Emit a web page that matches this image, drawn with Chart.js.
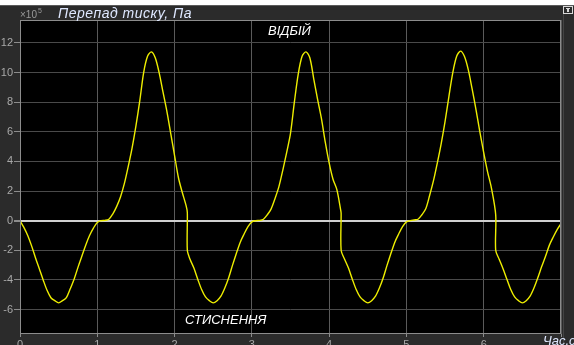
<!DOCTYPE html>
<html>
<head>
<meta charset="utf-8">
<script src="https://cdn.jsdelivr.net/npm/chart.js@4.4.1/dist/chart.umd.min.js"></script>
<style>
  html, body { margin: 0; padding: 0; background: #2b2b2b; }
  #wrap { position: relative; width: 574px; height: 345px; }
  canvas { display: block; }
</style>
</head>
<body>
<div id="wrap"><canvas id="c" width="574" height="345"></canvas></div>
<script>
// ---- data (time in s, pressure drop in ×10^5 Pa) ----
const timeS = [
  0, 0.05, 0.1, 0.15, 0.2, 0.25, 0.3, 0.35, 0.4, 0.45, 0.5, 0.55, 0.6, 0.65, 0.7, 0.75, 0.8, 0.85, 0.9, 0.95,
  1.0, 1.05, 1.1, 1.15, 1.2, 1.25, 1.3, 1.35, 1.4, 1.45, 1.5, 1.55, 1.6, 1.65, 1.7, 1.75, 1.8, 1.85, 1.9, 1.95,
  2.0, 2.05, 2.1, 2.15, 2.165, 2.165,
  2.2, 2.25, 2.3, 2.35, 2.4, 2.45, 2.5, 2.55, 2.6, 2.65, 2.7, 2.75, 2.8, 2.85, 2.9, 2.95,
  3.0, 3.05, 3.1, 3.15, 3.2, 3.25, 3.3, 3.35, 3.4, 3.45, 3.5, 3.55, 3.6, 3.65, 3.7, 3.75, 3.8, 3.85, 3.9, 3.95,
  4.0, 4.05, 4.1, 4.15, 4.155, 4.155,
  4.2, 4.25, 4.3, 4.35, 4.4, 4.45, 4.5, 4.55, 4.6, 4.65, 4.7, 4.75, 4.8, 4.85, 4.9, 4.95,
  5.0, 5.05, 5.1, 5.15, 5.2, 5.25, 5.3, 5.35, 5.4, 5.45, 5.5, 5.55, 5.6, 5.65, 5.7, 5.75, 5.8, 5.85, 5.9, 5.95,
  6.0, 6.05, 6.1, 6.155, 6.155,
  6.2, 6.25, 6.3, 6.35, 6.4, 6.45, 6.5, 6.55, 6.6, 6.65, 6.7, 6.75, 6.8, 6.85, 6.9, 6.95, 7.0
];
const pressure = [
  0, -0.45, -1.0, -1.7, -2.5, -3.25, -4.0, -4.7, -5.2, -5.4, -5.55, -5.4, -5.2, -4.6, -3.95, -3.15, -2.4, -1.65, -1.0, -0.5,
  -0.12, 0, 0.02, 0.1, 0.45, 0.95, 1.6, 2.5, 3.65, 4.9, 6.4, 8.1, 10.0, 11.1, 11.4, 11.0, 10.0, 8.7, 7.4, 5.9,
  4.4, 2.9, 1.9, 1.0, 0.55, -2.0,
  -2.6, -3.2, -3.95, -4.65, -5.15, -5.4, -5.55, -5.4, -5.1, -4.55, -3.85, -3.0, -2.2, -1.45, -0.9, -0.4,
  -0.08, 0, 0.02, 0.1, 0.4, 0.8, 1.5, 2.3, 3.4, 4.6, 5.9, 8.0, 9.9, 11.1, 11.4, 11.0, 9.6, 8.2, 6.9, 5.3,
  3.9, 2.8, 2.1, 0.7, 0.5, -2.0,
  -2.6, -3.2, -3.95, -4.65, -5.15, -5.4, -5.55, -5.4, -5.1, -4.55, -3.85, -3.0, -2.2, -1.45, -0.9, -0.4,
  -0.08, 0, 0.05, 0.1, 0.4, 0.8, 1.7, 2.7, 3.9, 5.2, 6.7, 8.4, 10.0, 11.1, 11.45, 11.1, 10.2, 8.9, 7.5, 6.0,
  4.6, 3.3, 2.2, 0.4, -2.0,
  -2.6, -3.25, -3.95, -4.65, -5.15, -5.4, -5.55, -5.4, -5.1, -4.55, -3.85, -3.1, -2.4, -1.65, -1.1, -0.6, -0.2
];
const xTicks = [0, 1, 2, 3, 4, 5, 6, 7];
const xTickLabels = ['0', '1', '2', '3', '4', '5', '6', ''];
const yTicks = [-6, -4, -2, 0, 2, 4, 6, 8, 10, 12];
const titleText = 'Перепад тиску, Па';
const scaleText = '×10';
const scaleExp = '5';
const xAxisText = 'Час,с';
const upperNote = 'ВІДБІЙ';
const lowerNote = 'СТИСНЕННЯ';

const points = timeS.map((t, i) => ({ x: t, y: pressure[i] }));

const framePlugin = {
  id: 'frame',
  beforeDraw(chart) {
    const { ctx, chartArea: a, width, height } = chart;
    ctx.save();
    ctx.fillStyle = '#2b2b2b';
    ctx.fillRect(0, 0, width, height);
    ctx.fillStyle = '#ffffff';
    ctx.fillRect(0, 0, width, 5);
    ctx.fillStyle = '#5a5a5a';
    ctx.fillRect(0, 5, width, 1);
    ctx.fillStyle = '#444444';
    ctx.fillRect(563, 6, 1, height - 6);
    ctx.fillStyle = '#000000';
    ctx.fillRect(a.left, a.top, a.right - a.left, a.bottom - a.top);
    ctx.restore();
  },
  afterDraw(chart) {
    const { ctx, chartArea: a } = chart;
    ctx.save();
    ctx.strokeStyle = '#8c8c8c';
    ctx.lineWidth = 1;
    ctx.strokeRect(a.left + 0.5, a.top + 0.5, a.right - a.left - 1, a.bottom - a.top - 1);
    // small toolbar icon
    ctx.strokeStyle = '#d8d8d8';
    ctx.strokeRect(563.5, 6.5, 9, 7);
    ctx.fillStyle = '#d8d8d8';
    ctx.fillRect(566, 8, 4, 1);
    ctx.fillRect(567, 9, 2, 3);
    // texts
    ctx.textBaseline = 'alphabetic';
    ctx.fillStyle = '#9a9a9a';
    ctx.font = '10px "Liberation Sans", Arial, sans-serif';
    ctx.fillText(scaleText, 20, 18);
    const w = ctx.measureText(scaleText).width;
    ctx.font = '7px "Liberation Sans", Arial, sans-serif';
    ctx.fillText(scaleExp, 20 + w + 1, 13);
    ctx.fillStyle = '#dfe8ff';
    ctx.font = 'italic 14px "Liberation Sans", Arial, sans-serif';
    if ('letterSpacing' in ctx) ctx.letterSpacing = '0.5px';
    ctx.fillText(titleText, 58, 18);
    if ('letterSpacing' in ctx) ctx.letterSpacing = '0px';
    ctx.fillStyle = '#ffffff';
    ctx.font = 'italic 13px "Liberation Sans", Arial, sans-serif';
    ctx.fillText(upperNote, 268, 35);
    ctx.fillText(lowerNote, 185, 324);
    ctx.fillStyle = '#dfe8ff';
    ctx.font = 'italic 13px "Liberation Sans", Arial, sans-serif';
    ctx.fillText(xAxisText, 543, 345);
    ctx.restore();
  }
};

new Chart(document.getElementById('c'), {
  type: 'line',
  data: {
    datasets: [{
      data: points,
      borderColor: '#eeee00',
      borderWidth: 1.4,
      pointRadius: 0,
      tension: 0.3,
      fill: false
    }]
  },
  options: {
    responsive: false,
    animation: false,
    events: [],
    layout: { padding: { left: 0, right: 13, top: 20, bottom: 0 } },
    plugins: { legend: { display: false }, tooltip: { enabled: false }, title: { display: false } },
    scales: {
      x: {
        type: 'linear',
        min: 0,
        max: 7,
        afterFit(s) { s.height = 11; },
        afterBuildTicks(s) { s.ticks = xTicks.map(v => ({ value: v })); },
        border: { display: false },
        grid: { color: '#5a5a5a', lineWidth: 1, drawTicks: true, tickLength: 3, tickColor: '#8c8c8c' },
        ticks: {
          padding: 1,
          color: '#a8a8a8',
          font: { size: 11, family: '"Liberation Sans", Arial, sans-serif' },
          maxRotation: 0,
          autoSkip: false,
          callback: (v) => xTickLabels[xTicks.indexOf(v)] ?? ''
        }
      },
      y: {
        min: -7.65,
        max: 13.55,
        afterFit(s) { s.width = 20; },
        afterBuildTicks(s) { s.ticks = yTicks.map(v => ({ value: v })); },
        border: { display: false },
        grid: {
          color: (c) => (c.tick && c.tick.value === 0) ? '#d0d0d0' : '#4a4a4a',
          lineWidth: (c) => (c.tick && c.tick.value === 0) ? 2 : 1,
          drawTicks: true,
          tickLength: 6,
          tickColor: '#8c8c8c'
        },
        ticks: {
          padding: 1,
          color: '#a8a8a8',
          font: { size: 11, family: '"Liberation Sans", Arial, sans-serif' },
          autoSkip: false,
          callback: (v) => String(v)
        }
      }
    }
  },
  plugins: [framePlugin]
});
</script>
</body>
</html>
